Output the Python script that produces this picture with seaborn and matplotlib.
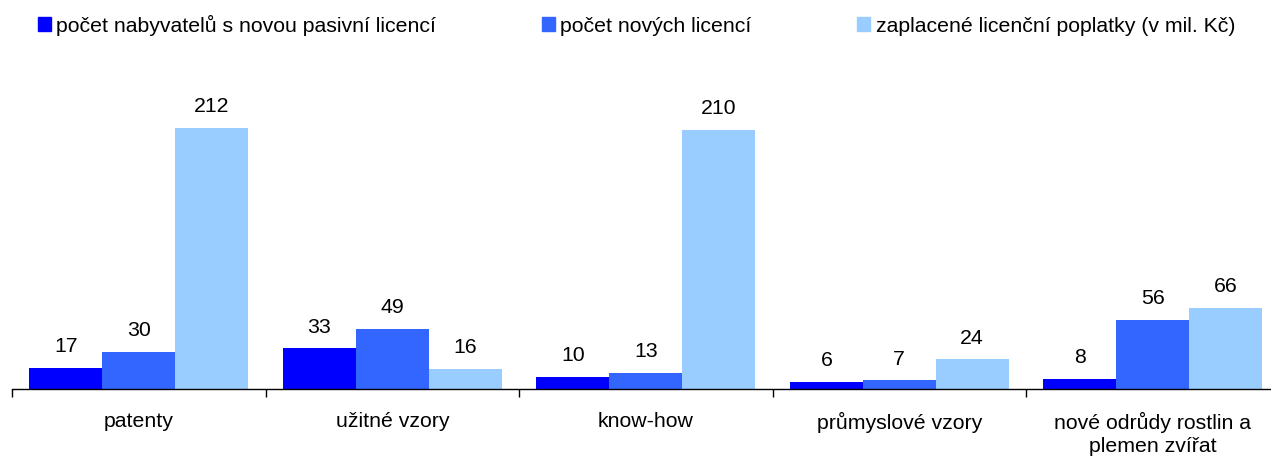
import numpy as np
import pandas as pd
import matplotlib
matplotlib.use("Agg")
import matplotlib.pyplot as plt
import seaborn as sns

# ── Data ──────────────────────────────────────────────────
categories = ["patenty", "užitné vzory", "know-how", "průmyslové vzory",
              "nové odrůdy rostlin a\nplemen zvířat"]
series = ["počet nabyvatelů s novou pasivní licencí",
          "počet nových licencí",
          "zaplacené licenční poplatky (v mil. Kč)"]
nabyvatele = [17, 33, 10, 6, 8]
nove_licence = [30, 49, 13, 7, 56]
poplatky = [212, 16, 210, 24, 66]

colors = ["#0000FF", "#3366FF", "#99CCFF"]

df = pd.DataFrame({
    "kategorie": categories * 3,
    "serie": [series[0]] * 5 + [series[1]] * 5 + [series[2]] * 5,
    "hodnota": nabyvatele + nove_licence + poplatky,
})

# ── Style ─────────────────────────────────────────────────
sns.set_style("white")
plt.rcParams["font.family"] = ["Liberation Sans", "DejaVu Sans"]
plt.rcParams["text.color"] = "black"
plt.rcParams["xtick.color"] = "black"

fig = plt.figure(figsize=(12.71, 4.57), dpi=100)
ax = fig.add_axes([12 / 1271, 68 / 457, 1267.5 / 1271, 308 / 457])

sns.barplot(data=df, x="kategorie", y="hodnota", hue="serie",
            order=categories, hue_order=series, palette=colors,
            width=0.862, gap=0, saturation=1, linewidth=0,
            ax=ax, legend=False)

for cont in ax.containers:
    for bar in cont:
        h = bar.get_height()
        ax.annotate(f"{h:.0f}", (bar.get_x() + bar.get_width() / 2, h),
                    textcoords="offset points", xytext=(0, 8.5),
                    ha="center", va="bottom", fontsize=15.3, color="black")

ax.set_xlim(-0.5, len(categories) - 0.5)
ax.set_ylim(0, 250)
ax.set_xlabel("")
ax.set_ylabel("")
ax.set_yticks([])
ax.spines[["top", "right", "left"]].set_visible(False)
ax.spines["bottom"].set_color("black")
ax.spines["bottom"].set_linewidth(1)

ax.set_xticks(range(len(categories)))
ax.set_xticklabels(categories, fontsize=15.3, color="black", linespacing=1.3)
ax.set_xticks(np.arange(-0.5, len(categories)), minor=True)
ax.tick_params(axis="x", which="major", length=0, pad=16.5)
ax.tick_params(axis="x", which="minor", length=6, width=1, color="black",
               direction="out", bottom=True)

# Legend
handles = [plt.Rectangle((0, 0), 1, 1, color=c) for c in colors]
fig.legend(handles, series, loc="upper left",
           bbox_to_anchor=(29 / 1271, 1 - 6 / 457), ncol=3, frameon=False,
           fontsize=15.35, handlelength=0.62, handleheight=0.62,
           handletextpad=0.26, columnspacing=4.95, borderaxespad=0)

fig.savefig("out.png", dpi=100)
